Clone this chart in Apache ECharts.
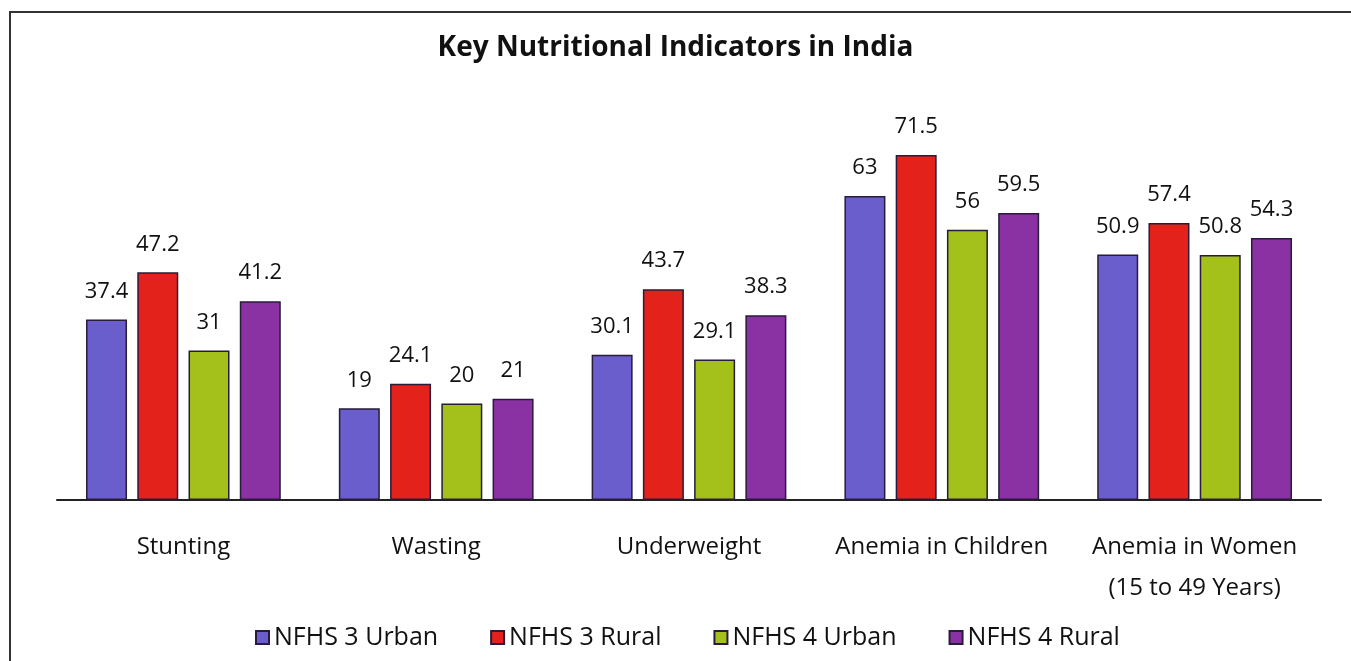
<!DOCTYPE html>
<html>
<head>
<meta charset="utf-8">
<script src="https://cdn.jsdelivr.net/npm/echarts@6/dist/echarts.min.js"></script>
<style>
  html, body { margin: 0; padding: 0; background: #fff; }
</style>
</head>
<body>
<div id="chart" style="width: 1351px; height: 661px;"></div>
<script>
  // categories and series values
  var categories = ['Stunting', 'Wasting', 'Underweight', 'Anemia in Children', 'Anemia in Women\n(15 to 49 Years)'];
  var nfhs3Urban = [37.4, 19, 30.1, 63, 50.9];
  var nfhs3Rural = [47.2, 24.1, 43.7, 71.5, 57.4];
  var nfhs4Urban = [31, 20, 29.1, 56, 50.8];
  var nfhs4Rural = [41.2, 21, 38.3, 59.5, 54.3];

  var seriesNames = ['NFHS 3 Urban', 'NFHS 3 Rural', 'NFHS 4 Urban', 'NFHS 4 Rural'];
  var seriesData = [nfhs3Urban, nfhs3Rural, nfhs4Urban, nfhs4Rural];
  var colors = ['#6a5dcc', '#e3221c', '#a3c11a', '#8a32a4'];

  var myChart = echarts.init(document.getElementById('chart'));

  var series = seriesData.map(function (d, i) {
    return {
      name: seriesNames[i],
      type: 'bar',
      data: d,
      barWidth: 41,
      barGap: '25%',
      itemStyle: {
        color: colors[i],
        borderColor: '#2a1b3a',
        borderWidth: 1.5
      },
      label: {
        show: true,
        position: 'top',
        distance: 17,
        color: '#111',
        fontSize: 22,
        fontFamily: 'Open Sans'
      }
    };
  });

  myChart.setOption({
    animation: false,
    title: {
      text: 'Key Nutritional Indicators in India',
      left: 'center',
      top: 29,
      textStyle: {
        fontFamily: 'Open Sans',
        fontWeight: 'bold',
        fontSize: 28,
        color: '#111'
      }
    },
    legend: {
      bottom: 6,
      left: 250,
      itemWidth: 13,
      itemHeight: 13,
      itemGap: 52,
      icon: 'rect',
      textStyle: {
        fontFamily: 'Open Sans',
        fontSize: 25,
        color: '#111'
      },
      data: seriesNames
    },
    grid: {
      left: 57,
      right: 30,
      top: 114,
      bottom: 161
    },
    xAxis: {
      type: 'category',
      data: categories,
      axisTick: { show: false },
      axisLine: { lineStyle: { color: '#222', width: 2 } },
      axisLabel: {
        interval: 0,
        hideOverlap: false,
        margin: 27,
        fontFamily: 'Open Sans',
        fontSize: 24,
        lineHeight: 41,
        color: '#111'
      }
    },
    yAxis: {
      type: 'value',
      min: 0,
      max: 80,
      show: false
    },
    graphic: [{
      type: 'rect',
      shape: { x: 10, y: 12, width: 1345, height: 660 },
      style: { fill: 'none', stroke: '#333', lineWidth: 2 }
    }],
    series: series
  });
</script>
</body>
</html>
